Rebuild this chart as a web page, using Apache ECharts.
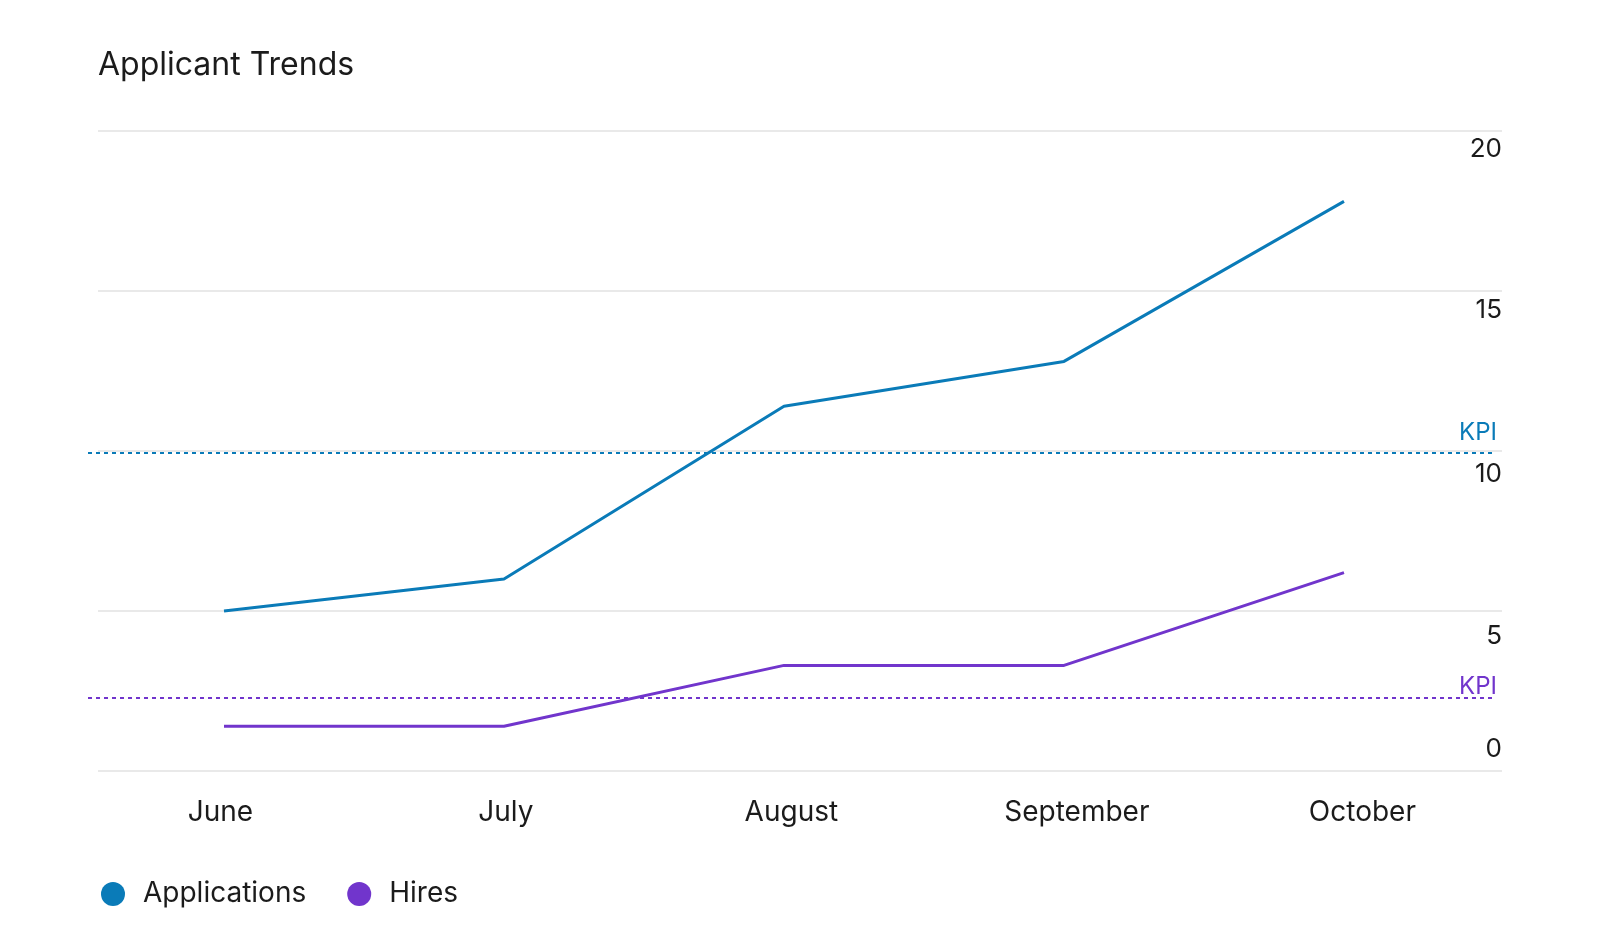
<!DOCTYPE html>
<html><head><meta charset="utf-8">
<script src="https://cdn.jsdelivr.net/npm/echarts@6/dist/echarts.min.js"></script>
<style>html,body{margin:0;padding:0;background:#fff}#c{width:1600px;height:946px}</style>
</head><body><div id="c"></div>
<script>
// ---- data ----
const months = ['June', 'July', 'August', 'September', 'October'];
const applications = [5.0, 6.0, 11.4, 12.8, 17.8];
const hires = [1.4, 1.4, 3.3, 3.3, 6.2];
const applicationsKpi = 9.95;
const hiresKpi = 2.3;
const yTicks = [0, 5, 10, 15, 20];

// ---- style ----
const FONT = 'Inter';
const BLUE = '#0a7bb8';
const PURPLE = '#7135cc';
const INK = '#1b1b1b';

const monthIdx = months.map((m, i) => i);
const chart = echarts.init(document.getElementById('c'), null, { renderer: 'canvas' });

function kpiLine(value, color, dy) {
  return {
    silent: true,
    symbol: 'none',
    data: [{ yAxis: value }],
    lineStyle: { color: color, type: [4, 4], width: 2 },
    label: {
      show: true, position: 'insideEndTop', formatter: 'KPI',
      color: color, fontSize: 24, fontFamily: FONT, distance: [-5, dy]
    }
  };
}

// vertical nudge of each y tick label relative to its grid line (label style only)
const tickLabelStyle = {
  t0: { padding: [0, 0, 43, 0] },
  t5: { padding: [50, 0, 0, 0] },
  t10: { padding: [46, 0, 0, 0] },
  t15: { padding: [38, 0, 0, 0] },
  t20: { padding: [36, 0, 0, 0] }
};
const rich = {};
Object.keys(tickLabelStyle).forEach(k => {
  rich[k] = Object.assign({ fontSize: 26, fontFamily: FONT, color: INK }, tickLabelStyle[k]);
});

const option = {
  animation: false,
  backgroundColor: '#ffffff',
  title: {
    text: 'Applicant Trends', left: 98, top: 49, padding: 0,
    textStyle: { fontFamily: FONT, fontSize: 32, fontWeight: 'normal', color: INK }
  },
  legend: {
    left: 101, top: 880, padding: 0,
    icon: 'circle', itemWidth: 24, itemHeight: 24, itemGap: 41,
    data: ['Applications', 'Hires'],
    textStyle: { fontFamily: FONT, fontSize: 28, color: INK, padding: [0, 0, 6, 13] }
  },
  grid: [
    { left: 98, right: 98, top: 131, bottom: 175 },
    { left: 88, right: 108, top: 131, bottom: 175 }
  ],
  xAxis: [
    {
      gridIndex: 0, type: 'value', min: -0.4287, max: 4.489,
      axisLine: { show: false }, axisTick: { show: false }, splitLine: { show: false },
      axisLabel: {
        customValues: monthIdx,
        formatter: v => months[Math.round(v)],
        margin: 28, fontSize: 28, fontFamily: FONT, color: INK
      }
    },
    { gridIndex: 1, type: 'value', min: -0.4857, max: 4.5286, show: false }
  ],
  yAxis: [
    {
      gridIndex: 0, type: 'value', min: yTicks[0], max: yTicks[yTicks.length - 1], interval: 5,
      position: 'right',
      axisLine: { show: false }, axisTick: { show: false },
      splitLine: { show: true, lineStyle: { color: '#e9e9e9', width: 2 } },
      axisLabel: {
        inside: true, margin: 0, fontSize: 26, fontFamily: FONT, color: INK,
        formatter: v => '{t' + v + '|' + v + '}',
        rich: rich
      }
    },
    { gridIndex: 1, type: 'value', min: yTicks[0], max: yTicks[yTicks.length - 1], show: false }
  ],
  series: [
    {
      name: 'Applications', type: 'line', xAxisIndex: 1, yAxisIndex: 1,
      data: applications.map((v, i) => [i, v]),
      symbol: 'none', color: BLUE,
      lineStyle: { width: 3, color: BLUE },
      markLine: kpiLine(applicationsKpi, BLUE, 8)
    },
    {
      name: 'Hires', type: 'line', xAxisIndex: 1, yAxisIndex: 1,
      data: hires.map((v, i) => [i, v]),
      symbol: 'none', color: PURPLE,
      lineStyle: { width: 3, color: PURPLE },
      markLine: kpiLine(hiresKpi, PURPLE, -1)
    }
  ]
};
chart.setOption(option);
</script>
</body></html>
